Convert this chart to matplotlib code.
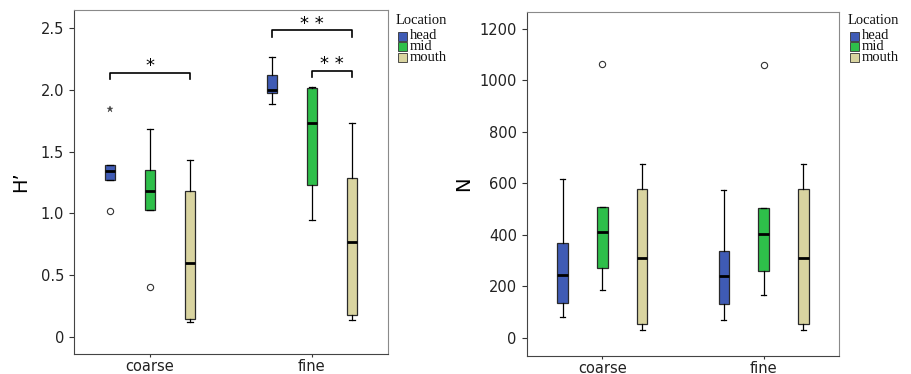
import numpy as np
import matplotlib
matplotlib.use('Agg')
import matplotlib.pyplot as plt
from matplotlib.patches import Rectangle

# ----------------------------------
# data
categories = ['coarse', 'fine']
locations = ['head', 'mid', 'mouth']
loc_colors = ['#3f5bb5', '#2ebf4a', '#d9d4a0']

# H' : rows = location, cols = category
h_whislo = [[1.27, 1.88], [1.03, 0.95], [0.12, 0.14]]
h_q1 = [[1.27, 1.97], [1.03, 1.23], [0.15, 0.18]]
h_med = [[1.34, 2.00], [1.18, 1.73], [0.60, 0.77]]
h_q3 = [[1.39, 2.12], [1.35, 2.01], [1.18, 1.29]]
h_whishi = [[1.39, 2.26], [1.68, 2.02], [1.43, 1.73]]
h_outliers = [[[1.02], []], [[0.41], []], [[], []]]
h_extremes = [[[1.84], []], [[], []], [[], []]]

# N
n_whislo = [[82, 70], [188, 166], [32, 32]]
n_q1 = [[137, 133], [272, 260], [54, 54]]
n_med = [[244, 240], [411, 402], [312, 312]]
n_q3 = [[369, 336], [507, 503], [578, 578]]
n_whishi = [[617, 575], [507, 505], [674, 674]]
n_outliers = [[[], []], [[1064], [1059]], [[], []]]
n_extremes = [[[], []], [[], []], [[], []]]

# significance brackets: (category, from location, to location, level, label)
h_signif = [(0, 0, 2, 2.137, '*'),
            (1, 0, 2, 2.478, '* *'),
            (1, 1, 2, 2.153, '* *')]

# ----------------------------------
offset = 0.247
box_w = 0.065
edge = '#2a2a2a'


def draw_panel(ax, whislo, q1, med, q3, whishi, outliers, extremes):
    for li in range(len(locations)):
        stats = []
        pos = []
        for ci in range(len(categories)):
            stats.append(dict(whislo=whislo[li][ci], q1=q1[li][ci], med=med[li][ci],
                              q3=q3[li][ci], whishi=whishi[li][ci], fliers=outliers[li][ci]))
            pos.append(ci + (li - 1) * offset)
        ax.bxp(stats, positions=pos, widths=box_w, capwidths=box_w * 0.5,
               patch_artist=True, showfliers=True, manage_ticks=False,
               boxprops=dict(facecolor=loc_colors[li], edgecolor=edge, linewidth=0.9),
               medianprops=dict(color='black', linewidth=2),
               whiskerprops=dict(color='black', linewidth=0.9),
               capprops=dict(color='black', linewidth=0.9),
               flierprops=dict(marker='o', markersize=4.5, markerfacecolor='white',
                               markeredgecolor='#333333', markeredgewidth=0.8))
        for ci in range(len(categories)):
            for v in extremes[li][ci]:
                ax.plot(ci + (li - 1) * offset, v, marker='*', markersize=5,
                        color='#444444', markeredgewidth=0.3)

    ax.set_xlim(-0.47, 1.47)
    ax.set_xticks(range(len(categories)))
    ax.set_xticklabels(categories)
    ax.tick_params(labelsize=10.5, color='#333333', labelcolor='#222222')
    ax.tick_params(axis='y', length=3.6, pad=3.5)
    ax.tick_params(axis='x', length=2.3, pad=1.2)
    for s in ['left', 'bottom']:
        ax.spines[s].set_color('#444444')
    for s in ['top', 'right']:
        ax.spines[s].set_color('#8a8a8a')


def draw_legend(fig, x0, y0):
    fs = 10.5
    fig.text(x0, 1 - y0 / 374, 'Location', fontsize=fs, family='Liberation Serif',
             va='center', ha='left', color='#111111')
    for i, loc in enumerate(locations):
        yc = y0 + 15.3 + i * 10.8
        fig.patches.append(Rectangle(((x0 + 2 / 912), 1 - (yc + 4.5) / 374), 9 / 912, 9 / 374,
                                     transform=fig.transFigure, facecolor=loc_colors[i],
                                     edgecolor='#333333', linewidth=0.6))
        fig.text(x0 + 14 / 912, 1 - (yc - 0.5) / 374, loc, fontsize=fs,
                 family='Liberation Serif', va='center', ha='left', color='#111111')


fig = plt.figure(figsize=(9.12, 3.74), dpi=100)
ax1 = fig.add_axes([74 / 912, 1 - 354 / 374, 314 / 912, 344 / 374])
ax2 = fig.add_axes([526.7 / 912, 1 - 355.7 / 374, 312.6 / 912, 344 / 374])

draw_panel(ax1, h_whislo, h_q1, h_med, h_q3, h_whishi, h_outliers, h_extremes)
ax1.set_ylim(-0.135, 2.643)
ax1.set_yticks([0, 0.5, 1.0, 1.5, 2.0, 2.5])
ax1.set_yticklabels(['0', '0.5', '1.0', '1.5', '2.0', '2.5'])
ax1.set_ylabel('H\u2019', fontsize=14)
ax1.yaxis.set_label_coords(-0.14, 0.5)

for ci, a, b, lvl, lab in h_signif:
    xa = ci + (a - 1) * offset
    xb = ci + (b - 1) * offset
    tip = 0.05
    ax1.plot([xa, xa, xb, xb], [lvl - tip, lvl, lvl, lvl - tip], color='black', linewidth=1.2)
    ax1.text((xa + xb) / 2, lvl + 0.015, lab, ha='center', va='baseline', fontsize=13)

draw_panel(ax2, n_whislo, n_q1, n_med, n_q3, n_whishi, n_outliers, n_extremes)
ax2.set_ylim(-68.5, 1266)
ax2.set_yticks([0, 200, 400, 600, 800, 1000, 1200])
ax2.set_ylabel('N', fontsize=14)
ax2.yaxis.set_label_coords(-0.17, 0.5)

draw_legend(fig, 396 / 912, 20.7)
draw_legend(fig, 847.7 / 912, 20.7)

fig.savefig('out.png', dpi=100)
